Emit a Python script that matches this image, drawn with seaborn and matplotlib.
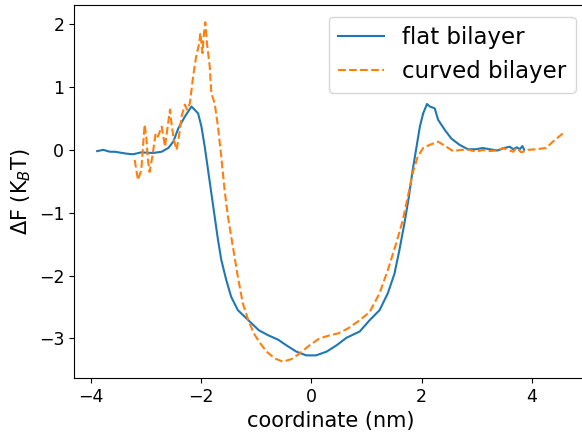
import numpy as np
import pandas as pd
import matplotlib
matplotlib.use("Agg")
import matplotlib.pyplot as plt
import seaborn as sns

flat_x = [-3.88, -3.77, -3.65, -3.56, -3.35, -3.23, -3.08, -2.87, -2.71, -2.59, -2.50, -2.41,
          -2.29, -2.17, -2.05, -1.99, -1.93, -1.87, -1.81, -1.75, -1.69, -1.63, -1.54, -1.45,
          -1.33, -1.14, -0.95, -0.78, -0.60, -0.45, -0.27, -0.09, 0.09, 0.28, 0.46, 0.64, 0.88,
          1.06, 1.24, 1.39, 1.51, 1.60, 1.69, 1.77, 1.84, 1.91, 1.97, 2.03, 2.10, 2.15, 2.24,
          2.30, 2.42, 2.54, 2.69, 2.84, 2.99, 3.11, 3.23, 3.38, 3.50, 3.60, 3.66, 3.73, 3.78,
          3.83, 3.86]
flat_y = [-0.02, 0.00, -0.03, -0.03, -0.06, -0.07, -0.04, -0.05, -0.03, 0.03, 0.13, 0.34,
          0.53, 0.69, 0.58, 0.37, 0.05, -0.32, -0.69, -1.06, -1.43, -1.75, -2.07, -2.34,
          -2.55, -2.71, -2.87, -2.95, -3.02, -3.11, -3.21, -3.27, -3.27, -3.21, -3.11, -2.99, -2.89,
          -2.71, -2.55, -2.28, -1.97, -1.59, -1.17, -0.75, -0.32, 0.05, 0.37, 0.58, 0.73, 0.69, 0.66,
          0.48, 0.32, 0.18, 0.08, 0.01, 0.01, 0.03, 0.01, -0.01, 0.03, 0.05, 0.01, 0.04, 0.01,
          0.06, 0.00]

curved_x = [-3.20, -3.14, -3.08, -3.02, -2.99, -2.96, -2.93, -2.88, -2.82, -2.78, -2.71, -2.65,
            -2.61, -2.56, -2.53, -2.49, -2.44, -2.39, -2.35, -2.29, -2.25, -2.20, -2.14, -2.09,
            -2.03, -2.01, -1.97, -1.95, -1.92, -1.89, -1.84, -1.81, -1.75, -1.69, -1.63, -1.57,
            -1.51, -1.42, -1.33, -1.24, -1.14, -1.04, -0.93, -0.81, -0.66, -0.51, -0.36, -0.21,
            -0.03, 0.15, 0.34, 0.49, 0.67, 0.88, 1.06, 1.24, 1.39, 1.54, 1.66, 1.75, 1.84, 1.93,
            2.03, 2.15, 2.30, 2.45, 2.57, 2.72, 2.87, 2.99, 3.11, 3.23, 3.38, 3.47, 3.57, 3.66,
            3.72, 3.81, 3.93, 4.08, 4.26, 4.38, 4.56]
curved_y = [-0.16, -0.48, -0.32, 0.40, 0.21, -0.16, -0.35, -0.11, 0.26, 0.21, 0.37, 0.05,
            0.32, 0.64, 0.40, 0.16, 0.00, 0.26, 0.53, 0.72, 0.64, 0.74, 1.17, 1.46,
            1.70, 1.86, 1.54, 1.80, 2.03, 1.70, 1.33, 0.90, 0.74, 0.37, -0.11, -0.64,
            -1.06, -1.54, -2.02, -2.44, -2.71, -2.92, -3.07, -3.21, -3.32, -3.37, -3.33, -3.24,
            -3.11, -3.00, -2.95, -2.92, -2.84, -2.71, -2.58, -2.28, -1.91, -1.49, -1.12, -0.75, -0.37, -0.11,
            0.03, 0.08, 0.13, 0.05, -0.02, 0.00, 0.00, -0.03, 0.00, -0.02, -0.01, 0.03, 0.00, -0.03,
            0.03, -0.04, 0.00, 0.01, 0.03, 0.13, 0.26]

fig = plt.figure(figsize=(5.82, 4.34), dpi=100)
ax = fig.add_axes([74 / 582, 56 / 434, 513 / 582, 372.7 / 434])

sns.lineplot(x=flat_x, y=flat_y, ax=ax, color="#1f77b4", lw=1.5,
             label="flat bilayer", sort=False, estimator=None)
sns.lineplot(x=curved_x, y=curved_y, ax=ax, color="#ff7f0e", lw=1.5,
             linestyle="--", label="curved bilayer", sort=False, estimator=None)

ax.set_xlim(-4.3, 5.0)
ax.set_ylim(-3.63, 2.30)
ax.set_xticks([-4, -2, 0, 2, 4])
ax.set_yticks([-3, -2, -1, 0, 1, 2])
ax.tick_params(labelsize=12.5)
ax.set_xlabel("coordinate (nm)", fontsize=15)
ax.set_ylabel(r"$\Delta$F (K$_B$T)", fontsize=15)
ax.legend(loc="upper right", fontsize=16.5)

fig.savefig("out.png", dpi=100)
